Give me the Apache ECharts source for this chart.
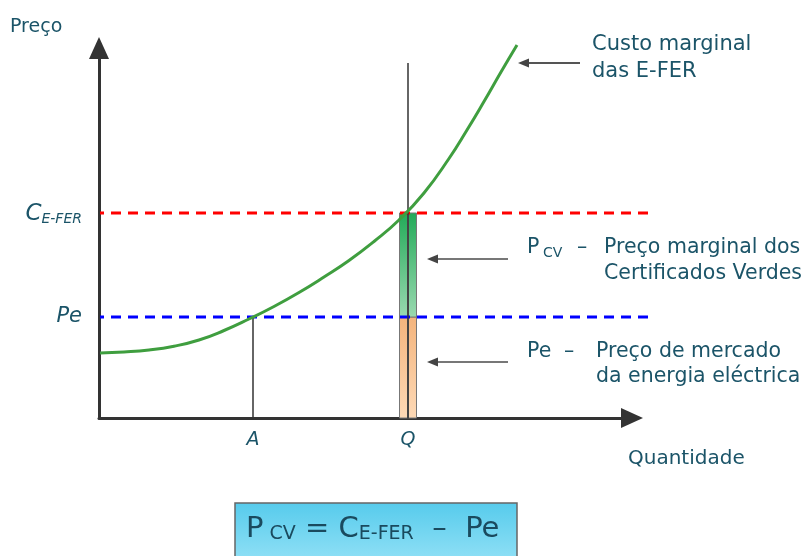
<!DOCTYPE html>
<html>
<head>
<meta charset="utf-8">
<script src="https://cdn.jsdelivr.net/npm/echarts@6/dist/echarts.min.js"></script>
<style>html,body{margin:0;padding:0;background:#fff;}#c{width:804px;height:556px;}</style>
</head>
<body>
<div id="c"></div>
<script>
// ---- data ----
const curveX = [1, 25, 50, 75, 100, 125, 150, 175, 200, 225, 250, 275, 300, 325, 350, 368, 385, 402, 418];
const curveY = [65, 66, 68, 71.8, 78, 87.5, 99, 111.5, 125.5, 141, 157.5, 176.5, 198, 225, 259.5, 288, 316.5, 346, 373];
const A = 154;
const Q = 309;
const PE = 101;
const C_EFER = 205;
const Q_TOP = 355;
const LINE_END = 549;
const xTicks = [A, Q];
const xTickLabels = ['A', 'Q'];
const yTicks = [PE, C_EFER];
const yTickLabels = ['{i|Pe}', '{c|C}{s|E-FER}'];
const levels = [ // [y, kind] for dashed price levels
  [C_EFER, 'c'],
  [PE, 'pe']
];
const segments = [ // [x, yLow, yHigh, kind]
  [Q, 0, PE, 'pe'],
  [Q, PE, C_EFER, 'cv']
];

const TXT = '#1b5468';
const FONT = 'DejaVu Sans';
const chart = echarts.init(document.getElementById('c'));

const grad = (a, b) => new echarts.graphic.LinearGradient(0, 0, 0, 1, [{offset: 0, color: a}, {offset: 1, color: b}]);
const txt = (left, top, text, size) => ({type: 'text', left: left, top: top, style: {text: text, fill: TXT, font: size + 'px "DejaVu Sans"'}});

chart.setOption({
  animation: false,
  backgroundColor: '#fff',
  grid: {left: 99, top: 48, right: 172, bottom: 138, outerBoundsMode: 'none'},
  xAxis: {
    type: 'value', min: 0, max: 533,
    splitLine: {show: false},
    axisTick: {show: false},
    axisLine: {show: true, symbol: ['none', 'triangle'], symbolSize: [20, 22], lineStyle: {color: '#333', width: 3}},
    axisLabel: {
      customValues: xTicks, margin: 13,
      formatter: v => xTickLabels[xTicks.indexOf(v)],
      color: TXT, fontFamily: FONT, fontStyle: 'italic', fontSize: 19
    }
  },
  yAxis: {
    type: 'value', min: 0, max: 370,
    splitLine: {show: false},
    axisTick: {show: false},
    axisLine: {show: true, symbol: ['none', 'triangle'], symbolSize: [20, 22], lineStyle: {color: '#333', width: 3}},
    axisLabel: {
      customValues: yTicks, margin: 17,
      formatter: v => yTickLabels[yTicks.indexOf(v)],
      rich: {
        i: {color: TXT, fontFamily: FONT, fontStyle: 'italic', fontSize: 21},
        c: {color: TXT, fontFamily: FONT, fontStyle: 'italic', fontSize: 23, verticalAlign: 'bottom', lineHeight: 26},
        s: {color: TXT, fontFamily: FONT, fontStyle: 'italic', fontSize: 14, verticalAlign: 'bottom', lineHeight: 18}
      }
    }
  },
  series: [
    {
      type: 'custom', z: 1, clip: false,
      data: segments,
      renderItem: (params, api) => {
        const x = api.value(0);
        const lo = api.coord([x, api.value(1)]);
        const hi = api.coord([x, api.value(2)]);
        const kind = segments[params.dataIndex][3];
        const fill = kind === 'cv' ? grad('#22aa58', '#9ad9b0') : grad('#f4b47c', '#fdd9b6');
        const h = lo[1] - hi[1];
        const cx = lo[0];
        return {type: 'group', children: [
          {type: 'rect', shape: {x: cx - 8.5, y: hi[1], width: 8, height: h}, style: {fill: fill, stroke: '#777', lineWidth: 1}},
          {type: 'rect', shape: {x: cx + 0.5, y: hi[1], width: 8, height: h}, style: {fill: fill, stroke: '#777', lineWidth: 1}}
        ]};
      }
    },
    {
      type: 'custom', z: 2, clip: false,
      data: levels,
      renderItem: (params, api) => {
        const y = api.value(0);
        const p0 = api.coord([0, y]);
        const p1 = api.coord([LINE_END, y]);
        const kind = levels[params.dataIndex][1];
        return {type: 'line', shape: {x1: p1[0], y1: p1[1], x2: p0[0] + 1, y2: p0[1]},
          style: {stroke: kind === 'c' ? '#ff0000' : '#0000ff', lineWidth: 3, lineDash: [10, 7]}};
      }
    },
    {type: 'line', z: 3, clip: false, showSymbol: false, silent: true,
     data: [[A, 0], [A, PE]], lineStyle: {color: '#333', width: 1.5}},
    {type: 'line', z: 3, clip: false, showSymbol: false, silent: true,
     data: [[Q, 0], [Q, Q_TOP]], lineStyle: {color: '#333', width: 1.5}},
    {type: 'line', z: 4, clip: false, showSymbol: false, silent: true, smooth: 0.5,
     data: curveX.map((x, i) => [x, curveY[i]]), lineStyle: {color: '#3f9e3f', width: 3}}
  ],
  graphic: [
    txt(10, 18, 'Preço', 19),
    txt(628, 449, 'Quantidade', 20),
    {type: 'text', left: 592, top: 31, style: {text: 'Custo marginal\ndas E-FER', fill: TXT, font: '21px "DejaVu Sans"', lineHeight: 27}},
    txt(527, 237, 'P', 20.5),
    txt(543, 246, 'CV', 14),
    txt(577, 237, '–', 20.5),
    txt(604, 237, 'Preço marginal dos', 20.5),
    txt(604, 263, 'Certificados Verdes', 20.5),
    txt(527, 341, 'Pe', 20.5),
    txt(564, 341, '–', 20.5),
    txt(596, 341, 'Preço de mercado', 20.5),
    txt(596, 366, 'da energia eléctrica', 20.5),
    // annotation arrows
    {type: 'line', shape: {x1: 580, y1: 63, x2: 526, y2: 63}, style: {stroke: '#555', lineWidth: 2}},
    {type: 'polygon', shape: {points: [[518, 63], [529, 58.5], [529, 67.5]]}, style: {fill: '#444'}},
    {type: 'line', shape: {x1: 508, y1: 259, x2: 434, y2: 259}, style: {stroke: '#777', lineWidth: 2}},
    {type: 'polygon', shape: {points: [[427, 259], [438, 254.5], [438, 263.5]]}, style: {fill: '#444'}},
    {type: 'line', shape: {x1: 508, y1: 362, x2: 434, y2: 362}, style: {stroke: '#777', lineWidth: 2}},
    {type: 'polygon', shape: {points: [[427, 362], [438, 357.5], [438, 366.5]]}, style: {fill: '#444'}},
    // formula box
    {type: 'rect', shape: {x: 235, y: 503, width: 282, height: 60},
     style: {fill: grad('#56cbec', '#93e1f6'), stroke: '#666', lineWidth: 1.5}},
    {type: 'text', left: 246, top: 515, style: {
      text: '{p|P}{s| CV}{p| = C}{s|E-FER}{p|  –  Pe}',
      rich: {p: {fontFamily: FONT, fontSize: 29, fill: '#1a4a5e', verticalAlign: 'bottom', lineHeight: 36},
             s: {fontFamily: FONT, fontSize: 19, fill: '#1a4a5e', verticalAlign: 'bottom', lineHeight: 26}}}}
  ]
});
</script>
</body>
</html>
